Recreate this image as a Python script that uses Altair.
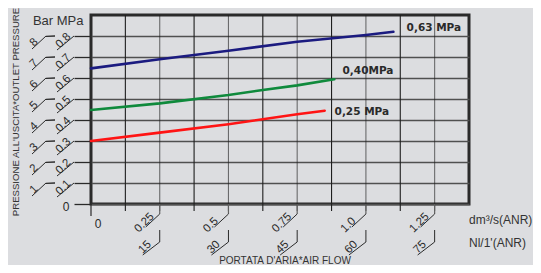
import altair as alt
import pandas as pd

# ---- data ----
flow_blue = [0, 0.25, 0.5, 0.75, 1.0, 1.1]
pres_blue = [0.646, 0.689, 0.73, 0.773, 0.805, 0.82]
flow_green = [0, 0.25, 0.5, 0.625, 0.75, 0.885]
pres_green = [0.448, 0.479, 0.519, 0.543, 0.565, 0.594]
flow_red = [0, 0.25, 0.5, 0.75, 0.85]
pres_red = [0.30, 0.34, 0.38, 0.427, 0.444]

series_labels = ["0,63 MPa", "0,40MPa", "0,25 MPa"]
series_label_x = [1.148, 0.915, 0.886]
series_label_y = [0.838, 0.633, 0.438]

y_axis_values = [0.0, 0.1, 0.2, 0.3, 0.4, 0.5, 0.6, 0.7, 0.8]
mpa_ticks = [0.1, 0.2, 0.3, 0.4, 0.5, 0.6, 0.7, 0.8]
mpa_labels = ["0.1", "0.2", "0.3", "0.4", "0.5", "0.6", "0.7", "0.8"]
bar_labels = ["1", "2", "3", "4", "5", "6", "7", "8"]

flow_ticks = [0.25, 0.5, 0.75, 1.0, 1.25]
flow_labels = ["0.25", "0.5", "0.75", "1.0", "1.25"]
nl_labels = ["15", "30", "45", "60", "75"]

x_grid_dark = [0.125, 0.375, 0.625, 0.875, 1.125]
x_grid_light = [0.25, 0.5, 0.75, 1.0, 1.25]

W, H = 378, 189
XDOM = [0, 1.375]
YDOM = [0, 0.9]
BG = "#dcdde0"
TXT = "#2a2a2a"
FONT = "Liberation Sans"

Y_AXIS = alt.Axis(values=y_axis_values, grid=True, gridColor="#505050", gridWidth=1.6,
                  ticks=True, tickSize=17, tickColor=TXT, tickWidth=1.3,
                  labels=False, domain=False, title=None)


def X(field="x"):
    return alt.X(f"{field}:Q", scale=alt.Scale(domain=XDOM, nice=False, zero=False), axis=None)


def Y(field="y"):
    return alt.Y(f"{field}:Q", scale=alt.Scale(domain=YDOM, nice=False, zero=False), axis=Y_AXIS)


def X2(field="x"):
    return alt.X2(f"{field}:Q")


def Y2(field="y"):
    return alt.Y2(f"{field}:Q")


lines_df = pd.concat([
    pd.DataFrame({"x": flow_blue, "y": pres_blue, "s": "0,63"}),
    pd.DataFrame({"x": flow_green, "y": pres_green, "s": "0,40"}),
    pd.DataFrame({"x": flow_red, "y": pres_red, "s": "0,25"}),
])
lab_df = pd.DataFrame({"x": series_label_x, "y": series_label_y, "t": series_labels})
xgrid_df = pd.DataFrame({"x": x_grid_dark + x_grid_light,
                         "k": ["dark"] * len(x_grid_dark) + ["light"] * len(x_grid_light)})
mpa_df = pd.DataFrame({"y": mpa_ticks, "m": mpa_labels, "b": bar_labels})
flow_df = pd.DataFrame({"x": flow_ticks, "f": flow_labels, "n": nl_labels})
zero_df = pd.DataFrame({"x": [0], "y": [0], "t": ["0"]})

layers = []

# vertical grid (extends a little below the axis)
layers.append(alt.Chart(xgrid_df).mark_rule(color="#1e1e1e", strokeWidth=1.1).encode(
    x=X(), y=alt.value(0), y2=alt.value(H + 7),
    opacity=alt.Opacity("k:N", scale=alt.Scale(domain=["dark", "light"], range=[1.0, 0.6]),
                        legend=None)))

# data lines
layers.append(alt.Chart(lines_df).mark_line(strokeWidth=2.6, strokeCap="round").encode(
    x=X(), y=Y(), detail="s:N",
    color=alt.Color("s:N", scale=alt.Scale(domain=["0,63", "0,40", "0,25"],
                                           range=["#1b1b80", "#0f8a3c", "#ff1414"]), legend=None)))

# series labels
layers.append(alt.Chart(lab_df).mark_text(align="left", baseline="middle", font="DejaVu Sans",
                                          fontWeight="bold", fontSize=10.5, color=TXT).encode(
    x=X(), y=Y(), text="t:N"))

# ---- y axis (MPa and Bar columns) ----
layers.append(alt.Chart(mpa_df).mark_rule(color=TXT, strokeWidth=1, yOffset=14).encode(
    y=Y(), y2=Y2(), x=alt.value(-34), x2=alt.value(-17)))
layers.append(alt.Chart(mpa_df).mark_text(angle=315, align="left", baseline="alphabetic",
                                          font=FONT, fontSize=11.5, color=TXT, yOffset=12.5).encode(
    y=Y(), x=alt.value(-31), text="m:N"))
layers.append(alt.Chart(mpa_df).mark_rule(color=TXT, strokeWidth=1.3, yOffset=0.4).encode(
    y=Y(), y2=Y2(), x=alt.value(-45), x2=alt.value(-36)))
layers.append(alt.Chart(mpa_df).mark_rule(color=TXT, strokeWidth=1, yOffset=13).encode(
    y=Y(), y2=Y2(), x=alt.value(-59), x2=alt.value(-45)))
layers.append(alt.Chart(mpa_df).mark_text(angle=315, align="left", baseline="alphabetic",
                                          font=FONT, fontSize=11.5, color=TXT, yOffset=11).encode(
    y=Y(), x=alt.value(-57), text="b:N"))

# zero labels
layers.append(alt.Chart(zero_df).mark_text(align="center", baseline="middle", font=FONT,
                                           fontSize=12, color=TXT, yOffset=3).encode(
    y=Y(), x=alt.value(-25), text="t:N"))
layers.append(alt.Chart(zero_df).mark_rule(color=TXT, strokeWidth=1.2).encode(
    x=X(), y=alt.value(H), y2=alt.value(H + 12)))
layers.append(alt.Chart(zero_df).mark_text(align="center", baseline="middle", font=FONT,
                                           fontSize=12, color=TXT, xOffset=7).encode(
    x=X(), y=alt.value(H + 20), text="t:N"))

# ---- x axis rows ----
layers.append(alt.Chart(flow_df).mark_rule(color="#606060", strokeWidth=1.2).encode(
    x=X(), y=alt.value(H), y2=alt.value(H + 10)))
layers.append(alt.Chart(flow_df).mark_rule(color=TXT, strokeWidth=1, x2Offset=-14).encode(
    x=X(), x2=X2(), y=alt.value(H + 10), y2=alt.value(H + 23)))
layers.append(alt.Chart(flow_df).mark_text(angle=315, align="left", baseline="alphabetic",
                                           font=FONT, fontSize=11.5, color=TXT, xOffset=-21).encode(
    x=X(), y=alt.value(H + 29), text="f:N"))
layers.append(alt.Chart(flow_df).mark_rule(color=TXT, strokeWidth=1).encode(
    x=X(), y=alt.value(H + 26), y2=alt.value(H + 38)))
layers.append(alt.Chart(flow_df).mark_rule(color=TXT, strokeWidth=1, x2Offset=-17).encode(
    x=X(), x2=X2(), y=alt.value(H + 38), y2=alt.value(H + 51)))
layers.append(alt.Chart(flow_df).mark_text(angle=315, align="left", baseline="alphabetic",
                                           font=FONT, fontSize=11.5, color=TXT, xOffset=-17).encode(
    x=X(), y=alt.value(H + 50), text="n:N"))


# ---- titles ----
def title(txt, **kw):
    df = pd.DataFrame({"t": [txt], "k": [0]})
    enc = {k: v for k, v in kw.items() if k in ("x", "y")}
    mk = {k: v for k, v in kw.items() if k not in ("x", "y")}
    return alt.Chart(df).mark_text(font=FONT, color="#333333", **mk).encode(text="t:N", **enc)


layers.append(title("PRESSIONE ALL'USCITA*OUTLET PRESSURE", x=alt.value(-75.5), y=alt.value(97),
                    angle=270, align="center", baseline="middle", fontSize=9.6))
layers.append(title("Bar", x=alt.value(-48), y=alt.value(6), align="center", baseline="middle", fontSize=13))
layers.append(title("MPa", x=alt.value(-21), y=alt.value(6), align="center", baseline="middle", fontSize=13))
layers.append(title("dm³/s(ANR)", x=alt.value(W), y=alt.value(H + 16), align="left", baseline="middle", fontSize=12))
layers.append(title("Nl/1'(ANR)", x=alt.value(W), y=alt.value(H + 39), align="left", baseline="middle", fontSize=12))
layers.append(title("PORTATA D'ARIA*AIR FLOW", x=alt.value(194), y=alt.value(H + 60),
                    align="center", baseline="alphabetic", fontSize=10))

chart = alt.layer(*layers).properties(
    width=W, height=H,
    background=BG,
    autosize=alt.AutoSizeParams(type="none"),
    padding={"left": 83, "top": 7, "right": 64, "bottom": 61},
).configure_view(stroke="#2a2a2a", strokeWidth=3)

chart.save("out.html", embed_options={"renderer": "svg", "actions": False})
